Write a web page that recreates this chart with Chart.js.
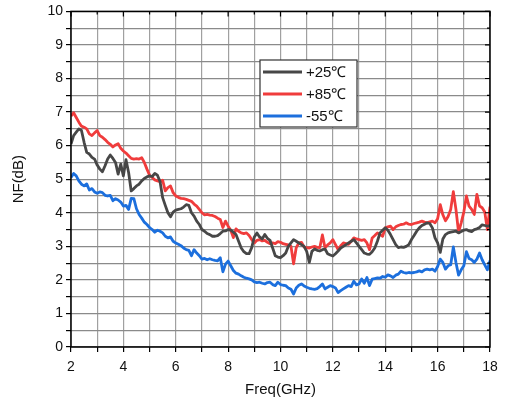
<!DOCTYPE html>
<html>
<head>
<meta charset="utf-8">
<script src="https://cdn.jsdelivr.net/npm/chart.js@4.4.1/dist/chart.umd.min.js"></script>
<style>
  html, body { margin: 0; padding: 0; background: #fff; }
  #wrap { width: 506px; height: 407px; }
</style>
</head>
<body>
<div id="wrap"><canvas id="grafico" width="506" height="407"></canvas></div>
<script>
// Frecuencia (GHz)
const freq = [
  2.0,2.1,2.2,2.3,2.4,2.5,2.6,2.7,2.8,2.9,
  3.0,3.1,3.2,3.3,3.4,3.5,3.6,3.7,3.8,3.9,
  4.0,4.1,4.2,4.3,4.4,4.5,4.6,4.7,4.8,4.9,
  5.0,5.1,5.2,5.3,5.4,5.5,5.6,5.7,5.8,5.9,
  6.0,6.1,6.2,6.3,6.4,6.5,6.6,6.7,6.8,6.9,
  7.0,7.1,7.2,7.3,7.4,7.5,7.6,7.7,7.8,7.9,
  8.0,8.1,8.2,8.3,8.4,8.5,8.6,8.7,8.8,8.9,
  9.0,9.1,9.2,9.3,9.4,9.5,9.6,9.7,9.8,9.9,
  10.0,10.1,10.2,10.3,10.4,10.5,10.6,10.7,10.8,10.9,
  11.0,11.1,11.2,11.3,11.4,11.5,11.6,11.7,11.8,11.9,
  12.0,12.1,12.2,12.3,12.4,12.5,12.6,12.7,12.8,12.9,
  13.0,13.1,13.2,13.3,13.4,13.5,13.6,13.7,13.8,13.9,
  14.0,14.1,14.2,14.3,14.4,14.5,14.6,14.7,14.8,14.9,
  15.0,15.1,15.2,15.3,15.4,15.5,15.6,15.7,15.8,15.9,
  16.0,16.1,16.2,16.3,16.4,16.5,16.6,16.7,16.8,16.9,
  17.0,17.1,17.2,17.3,17.4,17.5,17.6,17.7,17.8,17.9,
  18.0
];

// NF +25 C
const nf25 = [
  6.05,6.30,6.40,6.50,6.45,6.10,5.80,5.75,5.65,5.60,
  5.42,5.30,5.22,5.40,5.60,5.72,5.62,5.50,5.15,5.45,
  5.10,5.58,5.20,4.65,4.72,4.80,4.85,4.95,5.02,5.07,
  5.10,5.08,5.17,5.12,4.93,4.45,4.22,4.00,3.88,4.02,
  4.08,4.10,4.12,4.17,4.24,4.22,4.00,3.90,3.75,3.65,
  3.50,3.45,3.38,3.35,3.30,3.30,3.32,3.38,3.45,3.46,
  3.50,3.48,3.42,3.35,3.15,2.95,2.84,2.78,2.78,2.96,
  3.28,3.40,3.28,3.22,3.35,3.24,3.18,2.95,2.72,2.68,
  2.66,2.72,2.80,3.00,3.10,3.20,3.15,3.10,3.05,3.00,
  2.85,2.52,2.85,2.92,2.88,2.86,2.90,2.92,2.78,2.74,
  2.71,2.78,2.86,2.95,3.00,3.05,3.10,3.15,3.20,3.10,
  3.00,2.90,2.80,2.77,2.76,2.84,2.95,3.15,3.40,3.48,
  3.55,3.48,3.35,3.20,3.05,2.96,2.98,2.97,3.00,3.05,
  3.20,3.32,3.45,3.55,3.62,3.66,3.70,3.68,3.55,3.25,
  3.10,2.82,3.22,3.35,3.40,3.42,3.44,3.45,3.40,3.44,
  3.48,3.50,3.46,3.44,3.50,3.52,3.56,3.64,3.62,3.60,
  3.62
];

// NF +85 C
const nf85 = [
  6.88,6.98,6.84,6.70,6.58,6.55,6.50,6.35,6.30,6.38,
  6.45,6.30,6.25,6.18,6.10,6.04,5.96,6.02,6.06,5.92,
  5.84,5.78,5.70,5.62,5.60,5.61,5.60,5.64,5.50,5.30,
  5.12,5.05,4.98,4.95,4.93,4.97,4.65,4.75,4.80,4.60,
  4.50,4.46,4.43,4.42,4.40,4.37,4.34,4.26,4.20,4.10,
  4.00,3.94,3.95,3.93,3.92,3.89,3.84,3.80,3.56,3.75,
  3.60,3.48,3.26,3.52,3.45,3.40,3.38,3.40,3.32,3.20,
  3.10,3.18,3.20,3.16,3.18,3.12,3.08,3.10,3.08,3.14,
  3.12,3.08,3.06,3.04,3.00,2.48,2.96,3.10,3.12,2.98,
  2.96,2.95,2.98,3.00,2.97,2.96,3.34,2.96,3.04,3.10,
  3.20,3.05,2.90,3.02,3.10,3.08,3.06,3.15,3.25,3.22,
  3.20,3.18,3.20,3.10,2.90,3.25,3.32,3.40,3.35,3.30,
  3.55,3.58,3.60,3.50,3.58,3.62,3.65,3.66,3.70,3.66,
  3.65,3.68,3.70,3.72,3.75,3.72,3.70,3.73,3.75,3.70,
  3.82,4.24,3.94,3.76,3.89,4.10,4.63,4.10,3.42,3.70,
  4.02,4.50,4.20,4.10,3.95,4.55,4.20,4.15,4.02,3.50,
  4.18
];

// NF -55 C
const nfm55 = [
  5.05,5.17,5.10,4.95,4.85,4.80,4.86,4.68,4.72,4.62,
  4.58,4.62,4.60,4.52,4.50,4.52,4.36,4.42,4.38,4.32,
  4.20,4.22,4.10,4.43,4.42,4.12,3.95,3.84,3.72,3.65,
  3.56,3.50,3.42,3.48,3.45,3.40,3.30,3.25,3.28,3.15,
  3.10,3.06,3.02,2.95,2.90,2.88,2.72,2.90,2.80,2.72,
  2.62,2.64,2.60,2.63,2.60,2.58,2.57,2.66,2.24,2.47,
  2.56,2.42,2.28,2.20,2.17,2.12,2.08,2.05,2.03,2.00,
  1.94,1.92,1.93,1.90,1.88,1.92,1.93,1.86,1.83,1.93,
  1.86,1.84,1.83,1.76,1.72,1.58,1.76,1.84,1.88,1.82,
  1.78,1.75,1.73,1.72,1.74,1.80,1.88,1.73,1.78,1.83,
  1.80,1.76,1.62,1.68,1.73,1.78,1.83,1.80,1.96,1.85,
  1.88,2.03,1.90,2.07,1.83,2.02,2.04,2.06,2.05,2.10,
  2.08,2.15,2.12,2.07,2.14,2.17,2.26,2.22,2.20,2.22,
  2.21,2.22,2.24,2.27,2.24,2.30,2.32,2.30,2.32,2.26,
  2.40,2.62,2.52,2.32,2.42,2.45,2.98,2.52,2.14,2.30,
  2.42,2.84,2.64,2.60,2.52,2.62,2.80,2.60,2.45,2.30,
  2.57
];

const seriesLabels = ['+25℃', '+85℃', '-55℃'];
const seriesColors = ['#474747', '#f03c3c', '#1c6fdd'];
const xTicks = [2, 4, 6, 8, 10, 12, 14, 16, 18];
const yTicks = [0, 1, 2, 3, 4, 5, 6, 7, 8, 9, 10];

const FONT = "'Liberation Sans', Arial, sans-serif";

function pts(vals) {
    return freq.map((f, i) => ({ x: f, y: vals[i] }));
}

// Marco, ticks interiores y leyenda con borde
const framePlugin = {
    id: 'frame',
    afterDraw(chart) {
        const { ctx, chartArea: a, scales } = chart;
        ctx.save();
        ctx.strokeStyle = '#000';
        ctx.lineWidth = 1.5;
        ctx.strokeRect(a.left, a.top, a.right - a.left, a.bottom - a.top);

        // ticks hacia dentro en arriba y derecha
        ctx.lineWidth = 1.2;
        ctx.beginPath();
        for (let g = 2; g <= 18; g++) {
            const x = scales.x.getPixelForValue(g);
            const len = g % 2 === 0 ? 5 : 3;
            ctx.moveTo(x, a.top); ctx.lineTo(x, a.top + len);
        }
        for (let v = 0; v <= 10; v += 0.5) {
            const y = scales.y.getPixelForValue(v);
            const len = Number.isInteger(v) ? 5 : 3;
            ctx.moveTo(a.right, y); ctx.lineTo(a.right - len, y);
        }
        ctx.stroke();

        // leyenda
        const bx = 260, by = 60, bw = 97, bh = 67;
        ctx.fillStyle = '#fff';
        ctx.fillRect(bx, by, bw, bh);
        ctx.strokeStyle = '#333';
        ctx.lineWidth = 1.2;
        ctx.strokeRect(bx, by, bw, bh);
        ctx.font = '15px ' + FONT;
        ctx.textBaseline = 'middle';
        chart.data.datasets.forEach((ds, i) => {
            const y = by + 12 + i * 22;
            ctx.strokeStyle = ds.borderColor;
            ctx.lineWidth = 3;
            ctx.beginPath();
            ctx.moveTo(bx + 3, y); ctx.lineTo(bx + 42, y);
            ctx.stroke();
            ctx.fillStyle = '#111';
            ctx.fillText(ds.label, bx + 46, y + 1);
        });
        ctx.restore();
    }
};

const ctx = document.querySelector('#grafico').getContext('2d');
new Chart(ctx, {
    type: 'line',
    data: {
        datasets: [
            { label: seriesLabels[0], data: pts(nf25), borderColor: seriesColors[0] },
            { label: seriesLabels[1], data: pts(nf85), borderColor: seriesColors[1] },
            { label: seriesLabels[2], data: pts(nfm55), borderColor: seriesColors[2] }
        ].map(d => Object.assign(d, {
            borderWidth: 2.8,
            pointRadius: 0,
            fill: false,
            tension: 0,
            borderJoinStyle: 'round'
        }))
    },
    options: {
        responsive: false,
        animation: false,
        devicePixelRatio: 1,
        layout: { padding: { top: 8, right: 16, left: 0, bottom: 0 } },
        plugins: {
            legend: { display: false },
            tooltip: { enabled: false }
        },
        scales: {
            x: {
                type: 'linear',
                min: 2, max: 18,
                afterFit(s) { s.height = 60; },
                afterBuildTicks(s) {
                    s.ticks = [];
                    for (let g = 2; g <= 18; g++) s.ticks.push({ value: g });
                },
                ticks: {
                    autoSkip: false,
                    maxRotation: 0,
                    padding: 7,
                    color: '#111',
                    font: { family: FONT, size: 14 },
                    callback: v => xTicks.includes(v) ? String(v) : ''
                },
                grid: {
                    color: '#a0a0a0',
                    lineWidth: 1.2,
                    tickColor: '#000',
                    tickLength: 5
                },
                border: { display: false },
                title: {
                    display: true,
                    text: 'Freq(GHz)',
                    color: '#111',
                    font: { family: FONT, size: 15 },
                    padding: { top: 4, bottom: 8 }
                }
            },
            y: {
                min: 0, max: 10,
                afterFit(s) { s.width = 71; },
                afterBuildTicks(s) {
                    s.ticks = [];
                    for (let v = 0; v <= 10; v += 0.5) s.ticks.push({ value: v });
                },
                ticks: {
                    autoSkip: false,
                    padding: 3,
                    color: '#111',
                    font: { family: FONT, size: 14 },
                    callback: v => yTicks.includes(v) ? String(v) : ''
                },
                grid: {
                    color: '#8a8a8a',
                    lineWidth: 1.2,
                    tickColor: '#000',
                    tickLength: 5
                },
                border: { display: false },
                title: {
                    display: true,
                    text: 'NF(dB)',
                    color: '#111',
                    font: { family: FONT, size: 15 },
                    padding: { top: 10, bottom: 0 }
                }
            }
        }
    },
    plugins: [framePlugin]
});
</script>
</body>
</html>
